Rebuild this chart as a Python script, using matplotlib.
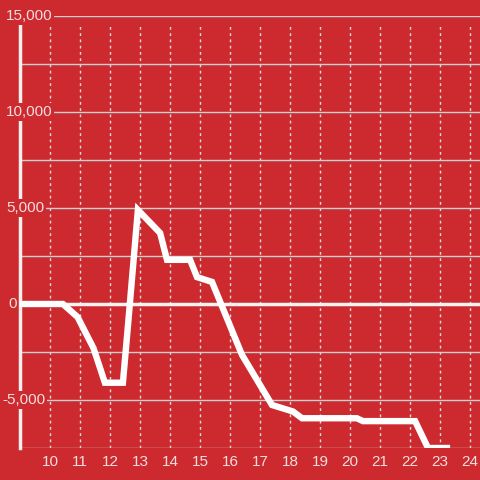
import matplotlib
matplotlib.use("Agg")
import matplotlib.pyplot as plt
import matplotlib.transforms as mtransforms

# data
hours = [9.0, 10.43, 10.92, 11.45, 11.83, 12.43, 12.6, 12.93, 13.67, 13.9,
         14.67, 14.9, 15.4, 16.4, 17.4, 18.1, 18.4, 20.23, 20.43, 22.17,
         22.6, 23.23]
values = [0, 0, -680, -2300, -4100, -4100, -1100, 4900, 3700, 2300,
          2300, 1400, 1150, -2650, -5260, -5600, -5950, -5950, -6100, -6100,
          -7500, -7500]
x_ticks = list(range(10, 25))
y_ticks = [-5000, 0, 5000, 10000, 15000]
y_grid = [-7500, -5000, -2500, 2500, 5000, 7500, 10000, 12500, 15000]

# left edge (px) of each y label, as in the picture
label_left = [2, 8, 6, 6, 6]

bg = "#cd2a2f"
txt = "#f3dede"

plt.rcParams['font.family'] = ['Liberation Sans', 'DejaVu Sans']

fig = plt.figure(figsize=(4.8, 4.8), dpi=100, facecolor=bg)
ax = fig.add_axes([20/480, 32/480, 460/480, 432/480])
ax.set_facecolor(bg)

ax.set_xlim(9, 24.333)
ax.set_ylim(-7500, 15000)

for s in ['top', 'right', 'bottom']:
    ax.spines[s].set_visible(False)
ax.spines['left'].set_color('#f4eeee')
ax.spines['left'].set_linewidth(2.5)
ax.spines['left'].set_zorder(3)

# grid
ax.vlines(x_ticks, -7500, 14580, color='#dcdcdc', lw=1, linestyles=(0, (2, 2.5)), zorder=1)
for y in y_grid:
    ax.axhline(y, color='#cfcfcf', lw=1, zorder=1)
ax.axhline(0, color='#f7f2f2', lw=2.5, zorder=2)

ax.plot(hours, values, color='white', lw=4.6, solid_joinstyle='miter', zorder=4)

ax.set_xticks(x_ticks)
ax.set_xticklabels([str(x) for x in x_ticks], color=txt, fontsize=11)
ax.tick_params(axis='x', length=0, pad=5)
ax.set_yticks([])

trans = mtransforms.blended_transform_factory(fig.transFigure, ax.transData)
for y, lx in zip(y_ticks, label_left):
    ax.text(lx/480, y, f"{y:,}", transform=trans, ha='left', va='center',
            color=txt, fontsize=11, zorder=5, clip_on=False,
            bbox=dict(facecolor=bg, edgecolor='none', pad=1.2))

fig.savefig("out.png", dpi=100, facecolor=bg)
